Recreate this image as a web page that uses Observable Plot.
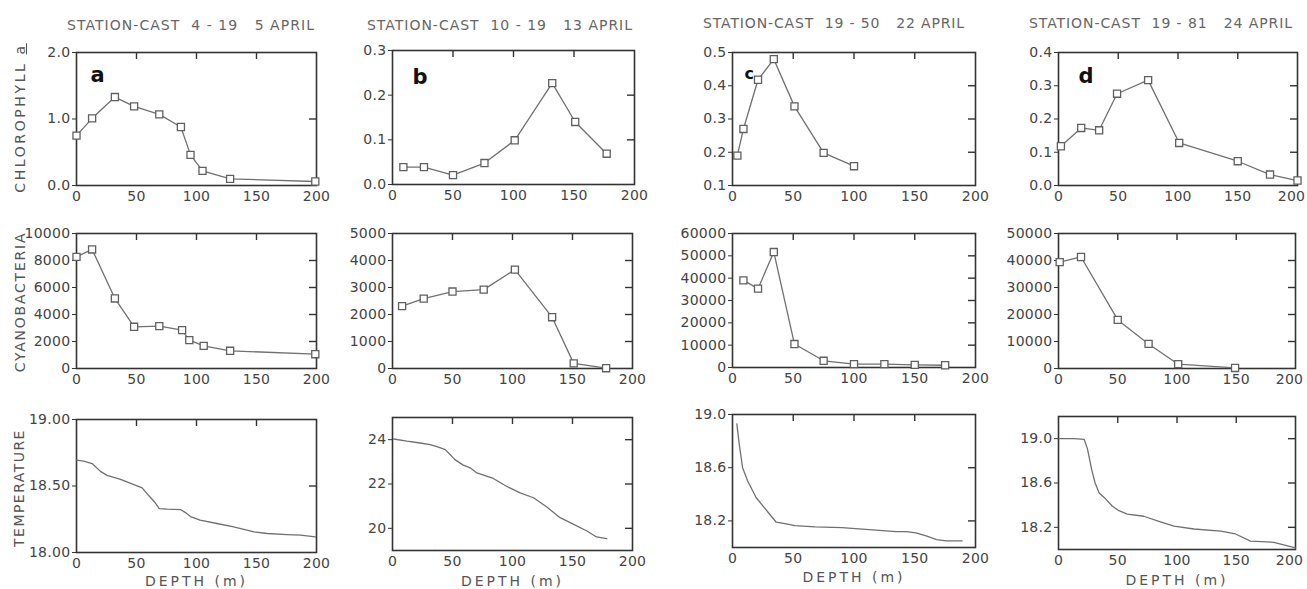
<!DOCTYPE html>
<html><head><meta charset="utf-8">
<script src="https://cdn.jsdelivr.net/npm/d3@7"></script>
<script src="https://cdn.jsdelivr.net/npm/@observablehq/plot@0.6"></script>
<style>
body{margin:0;background:#fff;}
#root{position:relative;width:1307px;height:589px;overflow:hidden;font-family:"DejaVu Sans",sans-serif;color:#555;}
.title{position:absolute;font-size:14px;white-space:pre;color:#666;line-height:1;transform:translateY(-50%);}
.rowlab{position:absolute;font-size:14px;white-space:pre;color:#555;line-height:1;transform:translate(-50%,-50%) rotate(-90deg);}
.panel{position:absolute;}
</style></head><body><div id="root"></div><script>
// ---------- data ----------
const xTicks = [0, 50, 100, 150, 200];
const xInnerTicks = [50, 100, 150];
const stationTitles = ["STATION-CAST  4 - 19   5 APRIL", "STATION-CAST  10 - 19   13 APRIL", "STATION-CAST  19 - 50   22 APRIL", "STATION-CAST  19 - 81   24 APRIL"];
const panelLetters = ["a", "b", "c", "d"];
const rowLabels = ["CHLOROPHYLL <u>a</u>", "CYANOBACTERIA", "TEMPERATURE"];
const depthLabel = "DEPTH (m)";

// chlorophyll a
const chlDepthA = [0, 13, 32, 48, 69, 87, 95, 105, 128, 199];
const chlA = [0.75, 1.01, 1.33, 1.19, 1.07, 0.88, 0.46, 0.22, 0.10, 0.06];
const chlDepthB = [9, 26, 50, 76, 101, 132, 151, 177];
const chlB = [0.039, 0.039, 0.021, 0.048, 0.099, 0.227, 0.140, 0.069];
const chlDepthC = [4, 9, 21, 34, 51, 75, 100];
const chlC = [0.19, 0.27, 0.418, 0.48, 0.338, 0.198, 0.158];
const chlDepthD = [2, 19, 34, 49, 75, 101, 150, 177, 200];
const chlD = [0.118, 0.173, 0.166, 0.276, 0.317, 0.128, 0.073, 0.033, 0.015];

// cyanobacteria
const cyanoDepthA = [0, 13, 32, 48, 69, 88, 94, 106, 128, 199];
const cyanoA = [8270, 8820, 5190, 3090, 3140, 2840, 2100, 1680, 1310, 1060];
const cyanoDepthB = [8, 26, 50, 76, 102, 133, 151, 178];
const cyanoB = [2310, 2590, 2850, 2920, 3660, 1900, 190, 10];
const cyanoDepthC = [9, 21, 34, 51, 75, 100, 125, 150, 175];
const cyanoC = [39000, 35300, 51700, 10500, 3000, 1500, 1500, 1200, 1000];
const cyanoDepthD = [1, 19, 50, 76, 101, 149];
const cyanoD = [39400, 41300, 18000, 9100, 1600, 200];

// temperature
const tempDepthA = [0, 6, 13, 20, 25.5, 36.7, 47.8, 54.7, 60, 65, 69, 75.5, 86.7, 90.8, 95, 103, 117, 131, 148, 159, 175.5, 186.7, 199];
const tempA = [18.694, 18.687, 18.669, 18.61, 18.58, 18.55, 18.51, 18.486, 18.43, 18.38, 18.33, 18.326, 18.323, 18.30, 18.27, 18.243, 18.218, 18.193, 18.155, 18.143, 18.135, 18.13, 18.118];
const tempDepthB = [1, 12, 23, 31.4, 38.3, 43.9, 48, 52, 59, 64.7, 70.3, 84, 95, 106.4, 117.5, 128.6, 139.7, 151, 162, 170, 178.6];
const tempB = [24.03, 23.93, 23.85, 23.78, 23.66, 23.55, 23.33, 23.1, 22.85, 22.73, 22.5, 22.25, 21.9, 21.6, 21.38, 20.96, 20.48, 20.18, 19.88, 19.61, 19.54];
const tempDepthC = [3.6, 5.5, 8.3, 12.5, 19.4, 25, 30.6, 36, 43, 51.4, 68, 90, 118, 134.7, 143, 151, 160, 168, 176, 189];
const tempC = [18.93, 18.78, 18.60, 18.50, 18.376, 18.313, 18.25, 18.19, 18.18, 18.165, 18.155, 18.15, 18.13, 18.12, 18.12, 18.11, 18.086, 18.06, 18.05, 18.05];
const tempDepthD = [0.5, 13, 21.6, 24.4, 28, 30.9, 34.3, 38.5, 45.5, 51, 58, 72, 86, 97.5, 114.3, 137, 149.4, 162, 181.7, 200];
const tempD = [19.0, 19.0, 18.994, 18.91, 18.72, 18.60, 18.51, 18.47, 18.39, 18.35, 18.32, 18.30, 18.25, 18.21, 18.185, 18.165, 18.14, 18.075, 18.065, 18.015];

// y scales per panel
const chlDomains = [[0, 2], [0, 0.3], [0.1, 0.5], [0, 0.4]];
const chlTicks = [[0, 1, 2], [0, 0.1, 0.2, 0.3], [0.1, 0.2, 0.3, 0.4, 0.5], [0, 0.1, 0.2, 0.3, 0.4]];
const cyanoDomains = [[0, 10000], [0, 5000], [0, 60000], [0, 50000]];
const cyanoTicks = [[0, 2000, 4000, 6000, 8000, 10000], [0, 1000, 2000, 3000, 4000, 5000], [0, 10000, 20000, 30000, 40000, 50000, 60000], [0, 10000, 20000, 30000, 40000, 50000]];
const tempDomains = [[18, 19], [19, 25], [18, 19], [18, 19.2]];
const tempTicks = [[18, 18.5, 19], [20, 22, 24], [18.2, 18.6, 19.0], [18.2, 18.6, 19.0]];
const tempFormats = [".2f", "d", ".1f", ".1f"];

// ---------- layout (styles only) ----------
const frames = [
  [[76, 316, 52, 185], [392, 634, 50, 184], [732, 975, 52, 185], [1058, 1297, 52, 185]],
  [[76, 316, 233, 368], [392, 632, 233, 368], [732, 975, 233, 367], [1058, 1295, 233, 368]],
  [[76, 316, 419, 552], [392, 632, 417, 550], [732, 975, 414, 547], [1058, 1295, 416, 549]]
];
const letterOffsets = [[14, 15, 21], [20, 19, 21], [12, 15, 16], [20, 16, 21]];
const titlePos = [[67, 25, 248], [367, 25, 266], [703, 23, 262], [1029, 23, 264]];
const rowLabPos = [[20, 118, 150], [20, 302, 141], [19, 488, 118]];
const lastLabelShift = [0, 0, 0, -6];
const depthLabelDy = [29, 31, 30, 31];

const root = document.getElementById("root");

function panel(frame, depth, values, {dots, yDomain, yTicks, yFormat, letter, letterOff, bottomLabel, bottomDy, lastShift}) {
  const [x0, x1, y0, y1] = frame;
  const mL = 64, mR = 8, mT = 4, mB = bottomLabel ? 46 : 24;
  const iw = x1 - x0, ih = y1 - y0;
  const data = depth.map((d, i) => ({depth: d, value: values[i]}));
  const inner = yTicks.filter(t => t > yDomain[0] + 1e-9 && t < yDomain[1] - 1e-9);
  const marks = [
    Plot.frame({stroke: "#333", strokeWidth: 1.6}),
    Plot.tickX(xInnerTicks, {x: d => d, insetBottom: ih - 7, stroke: "#333", strokeWidth: 1.4}),
    Plot.tickY(inner, {y: d => d, insetLeft: iw - 7, stroke: "#333", strokeWidth: 1.4}),
    Plot.axisY({ticks: yTicks, tickFormat: yFormat, tickSize: 4, tickPadding: 2, label: null, stroke: "#333"}),
    Plot.axisX({ticks: xTicks.slice(0, -1), tickFormat: "d", tickSize: 0, tickPadding: 6, label: null}),
    Plot.axisX({ticks: xTicks.slice(-1), tickFormat: "d", tickSize: 0, tickPadding: 6, label: null, dx: lastShift || 0}),
    Plot.line(data, {x: "depth", y: "value", stroke: "#707070", strokeWidth: 1.3})
  ];
  if (dots) marks.push(Plot.dot(data, {x: "depth", y: "value", symbol: "square", r: 4, fill: "white", stroke: "#606060", strokeWidth: 1.3}));
  if (letter) marks.push(Plot.text([letter], {text: d => d, frameAnchor: "top-left", dx: letterOff[0], dy: letterOff[1], fontSize: letterOff[2], fontWeight: "bold", fill: "#111"}));
  if (bottomLabel) marks.push(Plot.text([bottomLabel], {text: d => d, frameAnchor: "bottom", lineAnchor: "middle", dy: bottomDy, fontSize: 14, fill: "#555"}));
  const svg = Plot.plot({
    width: mL + iw + mR, height: mT + ih + mB,
    marginLeft: mL, marginRight: mR, marginTop: mT, marginBottom: mB,
    x: {domain: [0, 200]},
    y: {domain: yDomain},
    style: {fontSize: "14px", fontFamily: "DejaVu Sans, sans-serif", color: "#444", background: "transparent", overflow: "visible", letterSpacing: "0.3px"},
    marks
  });
  svg.querySelectorAll("text").forEach(t => { if (t.textContent === depthLabel) t.style.letterSpacing = "3px"; });
  svg.classList.add("panel");
  svg.style.left = (x0 - mL) + "px";
  svg.style.top = (y0 - mT) + "px";
  root.appendChild(svg);
}

const chlDepths = [chlDepthA, chlDepthB, chlDepthC, chlDepthD];
const chlVals = [chlA, chlB, chlC, chlD];
const cyDepths = [cyanoDepthA, cyanoDepthB, cyanoDepthC, cyanoDepthD];
const cyVals = [cyanoA, cyanoB, cyanoC, cyanoD];
const tDepths = [tempDepthA, tempDepthB, tempDepthC, tempDepthD];
const tVals = [tempA, tempB, tempC, tempD];

for (let j = 0; j < 4; j++) {
  panel(frames[0][j], chlDepths[j], chlVals[j], {dots: true, yDomain: chlDomains[j], yTicks: chlTicks[j], yFormat: ".1f", letter: panelLetters[j], letterOff: letterOffsets[j], lastShift: lastLabelShift[j]});
  panel(frames[1][j], cyDepths[j], cyVals[j], {dots: true, yDomain: cyanoDomains[j], yTicks: cyanoTicks[j], yFormat: "d", lastShift: lastLabelShift[j]});
  panel(frames[2][j], tDepths[j], tVals[j], {dots: false, yDomain: tempDomains[j], yTicks: tempTicks[j], yFormat: tempFormats[j], bottomLabel: depthLabel, bottomDy: depthLabelDy[j], lastShift: lastLabelShift[j]});
}

// titles
stationTitles.forEach((t, j) => {
  const d = document.createElement("div");
  d.className = "title";
  d.textContent = t;
  d.style.left = titlePos[j][0] + "px";
  d.style.top = titlePos[j][1] + "px";
  root.appendChild(d);
  const w = d.getBoundingClientRect().width;
  d.style.letterSpacing = ((titlePos[j][2] - w) / t.length) + "px";
});
// row labels
rowLabels.forEach((t, i) => {
  const d = document.createElement("div");
  d.className = "rowlab";
  d.innerHTML = t;
  d.style.left = rowLabPos[i][0] + "px";
  d.style.top = rowLabPos[i][1] + "px";
  root.appendChild(d);
  const w = d.offsetWidth;
  const n = d.textContent.length;
  d.style.letterSpacing = ((rowLabPos[i][2] - w) / n) + "px";
});
</script></body></html>
